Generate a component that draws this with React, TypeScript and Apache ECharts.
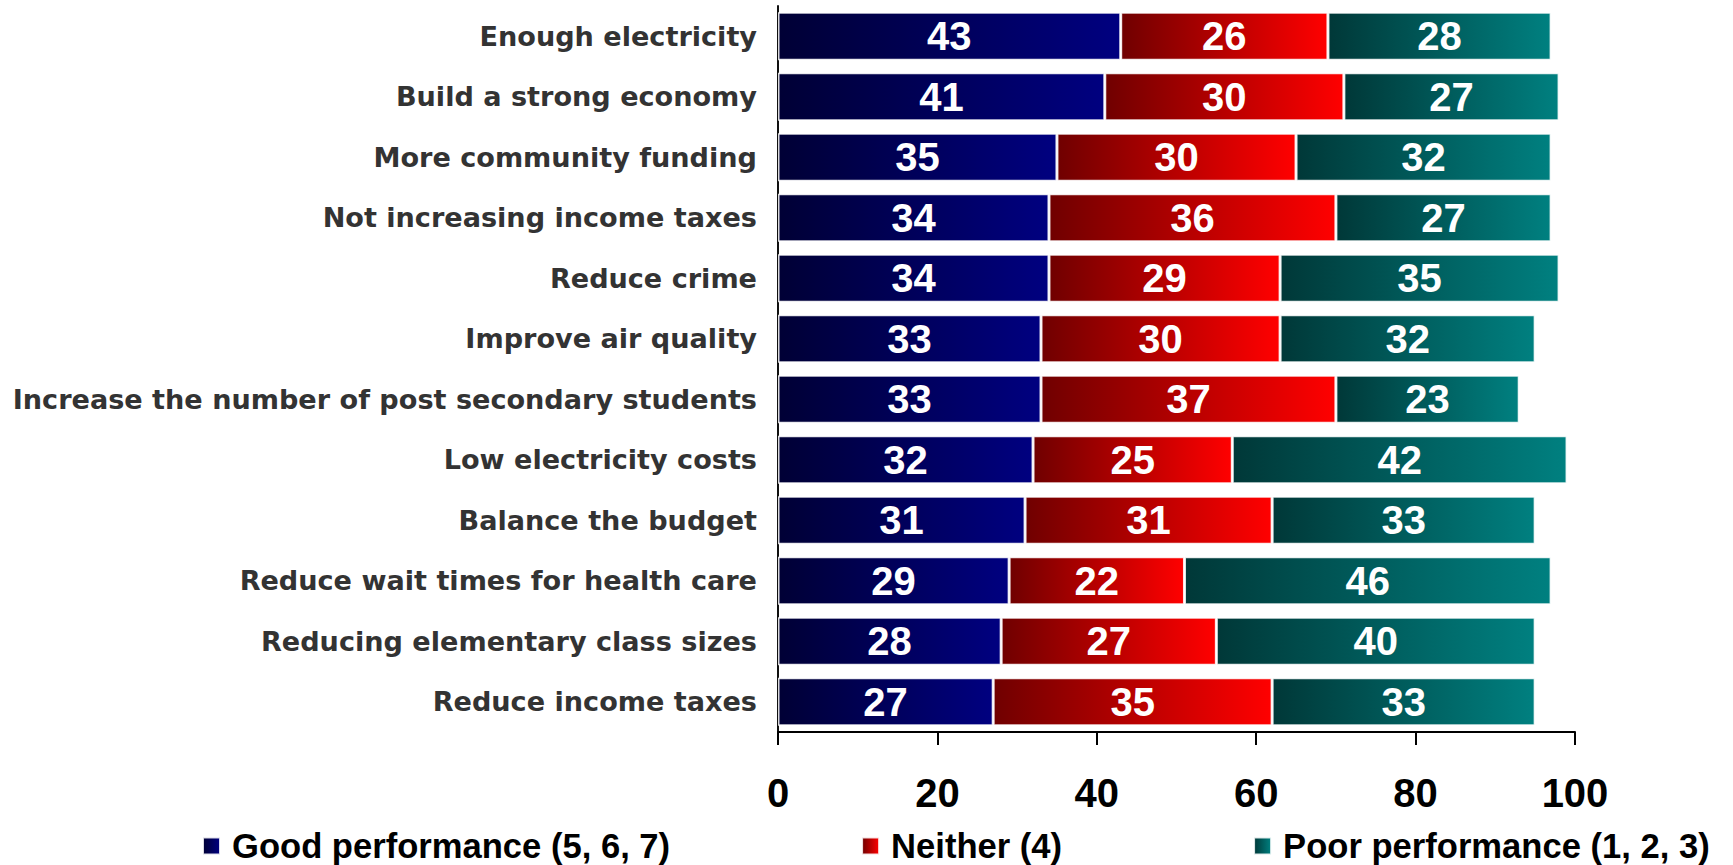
import React, { useEffect, useRef } from "react";
import * as echarts from "echarts";

const categories = [
  "Enough electricity",
  "Build a strong economy",
  "More community funding",
  "Not increasing income taxes",
  "Reduce crime",
  "Improve air quality",
  "Increase the number of post secondary students",
  "Low electricity costs",
  "Balance the budget",
  "Reduce wait times for health care",
  "Reducing elementary class sizes",
  "Reduce income taxes",
];

const goodValues = [43, 41, 35, 34, 34, 33, 33, 32, 31, 29, 28, 27];
const neitherValues = [26, 30, 30, 36, 29, 30, 37, 25, 31, 22, 27, 35];
const poorValues = [28, 27, 32, 27, 35, 32, 23, 42, 33, 46, 40, 33];

const seriesNames = [
  "Good performance (5, 6, 7)",
  "Neither (4)",
  "Poor performance (1, 2, 3)",
];

const xTicks = { min: 0, max: 100, interval: 20 };

const grad = (a: string, b: string) =>
  new echarts.graphic.LinearGradient(0, 0, 1, 0, [
    { offset: 0, color: a },
    { offset: 1, color: b },
  ]);

export default function App() {
  const ref = useRef<HTMLDivElement>(null);
  useEffect(() => {
    if (!ref.current) return;
    const chart = echarts.init(ref.current, undefined, { renderer: "svg" });
    const labelFont = "'Liberation Sans', Arial, Helvetica, sans-serif";
    const mkSeries = (name: string, data: number[], c: any) => ({
      name,
      type: "bar",
      stack: "total",
      data,
      barWidth: 48,
      itemStyle: {
        color: c,
        borderColor: "rgba(255,255,255,0.85)",
        borderWidth: 1.5,
      },
      label: {
        show: true,
        position: "inside",
        color: "#ffffff",
        fontSize: 40,
        fontWeight: "bold",
        fontFamily: labelFont,
      },
    });
    chart.setOption({
      animation: false,
      backgroundColor: "#ffffff",
      grid: { left: 778, right: 158, top: 6, height: 726, containLabel: false },
      legend: {
        left: 197,
        top: 828,
        padding: [0, 5, 0, 5],
        itemWidth: 17,
        itemHeight: 17,
        itemGap: 191,
        icon: "rect",
        textStyle: {
          fontSize: 34.6,
          lineHeight: 36,
          fontWeight: "bold",
          color: "#000000",
          fontFamily: labelFont,
          padding: [0, 0, 0, 7],
        },
        data: seriesNames,
      },
      xAxis: {
        type: "value",
        min: xTicks.min,
        max: xTicks.max,
        interval: xTicks.interval,
        axisLine: { show: true, lineStyle: { color: "#000", width: 2 } },
        axisTick: { show: true, length: 13, lineStyle: { color: "#000", width: 2 } },
        splitLine: { show: false },
        axisLabel: {
          fontSize: 40,
          fontWeight: "bold",
          color: "#000",
          fontFamily: labelFont,
          margin: 41,
        },
      },
      yAxis: {
        type: "category",
        inverse: true,
        data: categories,
        axisLine: { show: true, lineStyle: { color: "#111", width: 2 } },
        axisTick: { show: false },
        axisLabel: {
          fontSize: 27.1,
          fontWeight: "bold",
          color: "#333333",
          fontFamily: "'DejaVu Sans', Verdana, sans-serif",
          margin: 21,
        },
      },
      series: [
        mkSeries(seriesNames[0], goodValues, grad("#000035", "#000080")),
        mkSeries(seriesNames[1], neitherValues, grad("#700000", "#ff0000")),
        mkSeries(seriesNames[2], poorValues, grad("#003838", "#008080")),
      ],
    });
    return () => chart.dispose();
  }, []);
  return (
    <div
      ref={ref}
      style={{ position: "fixed", left: 0, top: 0, width: 1733, height: 865 }}
    />
  );
}
